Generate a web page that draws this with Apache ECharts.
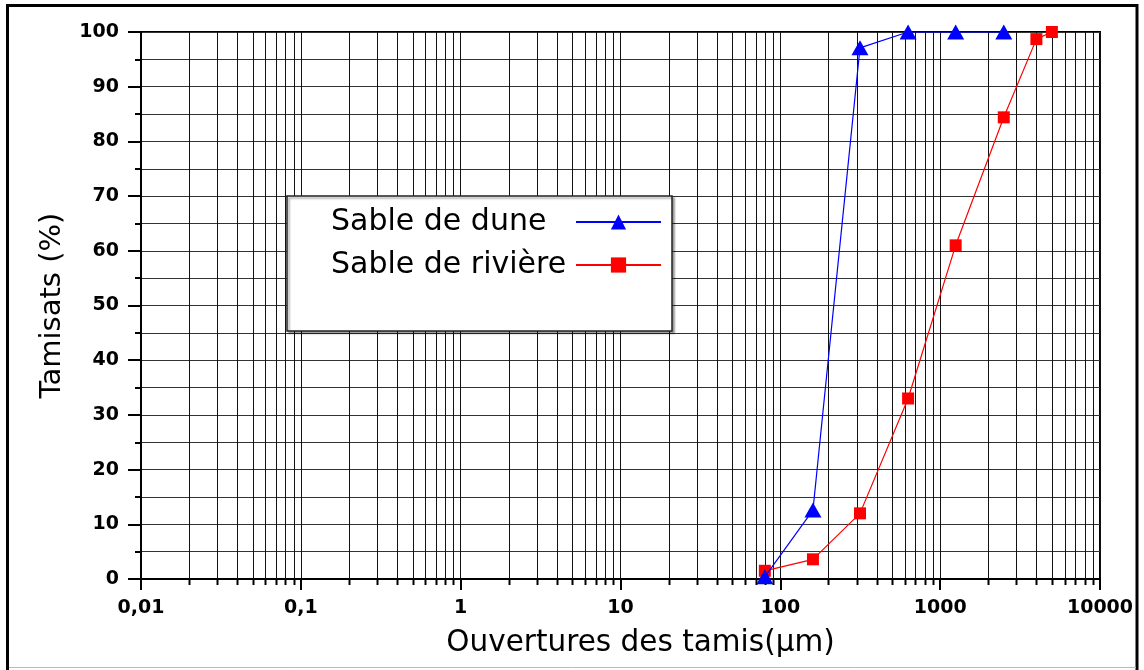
<!DOCTYPE html>
<html>
<head>
<meta charset="utf-8">
<script src="https://cdn.jsdelivr.net/npm/echarts@6/dist/echarts.min.js"></script>
<style>html,body{margin:0;padding:0;background:#fff;}#c{width:1144px;height:670px;}</style>
</head>
<body>
<div id="c"></div>
<script>
// ---- data ----
var seriesNames = ['Sable de dune', 'Sable de rivière'];
var duneX = [80, 160, 315, 630, 1250, 2500];
var duneY = [0.4, 12.6, 97.1, 100, 100, 100];
var riviereX = [80, 160, 315, 630, 1250, 2500, 4000, 5000];
var riviereY = [1.5, 3.6, 12.0, 33.0, 61.0, 84.4, 98.7, 100];
var xDecades = [0.01, 0.1, 1, 10, 100, 1000];
var xMinorMultipliers = [2, 3, 4, 5, 6, 7, 8, 9];
var xAxisName = 'Ouvertures des tamis(µm)';
var yAxisName = 'Tamisats (%)';

function pairs(xs, ys) { return xs.map(function (x, i) { return [x, ys[i]]; }); }
var minorTicks = [];
xDecades.forEach(function (d) { xMinorMultipliers.forEach(function (m) { minorTicks.push([+(d * m).toPrecision(6)]); }); });

var FONT = 'DejaVu Sans';
var chart = echarts.init(document.getElementById('c'));
chart.setOption({
  animation: false,
  backgroundColor: '#fff',
  textStyle: { fontFamily: FONT },
  grid: { left: 141, right: 44, top: 32, bottom: 91, show: true, borderColor: '#000', borderWidth: 2, backgroundColor: 'transparent' },
  graphic: [
    { type: 'rect', shape: { x: 7.5, y: 5.5, width: 1129.5, height: 670 }, style: { fill: 'none', stroke: '#000', lineWidth: 3 }, silent: true, z: 100 },
    { type: 'line', shape: { x1: 9, y1: 667.5, x2: 1136, y2: 667.5 }, style: { stroke: '#bbb', lineWidth: 1 }, silent: true, z: 100 }
  ],
  legend: {
    orient: 'vertical', left: 287, top: 196, align: 'right',
    padding: [11, 10, 51, 44], itemGap: 13, itemWidth: 85, itemHeight: 19,
    backgroundColor: '#fff', borderColor: '#222', borderWidth: 1.5,
    shadowColor: 'rgba(0,0,0,0.35)', shadowBlur: 2, shadowOffsetX: 2, shadowOffsetY: 2,
    formatter: function (name) { return '{a|' + name + '}'; },
    textStyle: { fontFamily: FONT, fontSize: 30, color: '#000', lineHeight: 30,
      rich: { a: { fontFamily: FONT, fontSize: 30, color: '#000', width: 240, align: 'left', lineHeight: 30 } } },
    data: seriesNames
  },
  xAxis: {
    type: 'log', logBase: 10, min: 0.01, max: 10000,
    name: xAxisName, nameLocation: 'middle', nameGap: 49,
    nameTextStyle: { fontFamily: FONT, fontSize: 29.5, color: '#000', padding: [0, 0, 0, 40] },
    axisLine: { show: true, lineStyle: { color: '#000', width: 2 } },
    axisTick: { show: true, inside: false, length: 11, lineStyle: { color: '#000', width: 2 } },
    axisLabel: { margin: 20, fontFamily: FONT, fontSize: 19, fontWeight: 'bold', color: '#000',
      formatter: function (v) { return String(+(+v).toPrecision(6)).replace('.', ','); } },
    splitLine: { show: true, lineStyle: { color: '#111', width: 1 } },
    minorTick: { show: false }, minorSplitLine: { show: false }
  },
  yAxis: {
    type: 'value', min: 0, max: 100, interval: 10,
    name: yAxisName, nameLocation: 'middle', nameGap: 74,
    nameTextStyle: { fontFamily: FONT, fontSize: 29, color: '#000' },
    axisLine: { show: true, lineStyle: { color: '#000', width: 2 } },
    axisTick: { show: true, inside: false, length: 13, lineStyle: { color: '#000', width: 2 } },
    minorTick: { show: true, splitNumber: 2, length: 6, lineStyle: { color: '#000', width: 2 } },
    axisLabel: { margin: 22, fontFamily: FONT, fontSize: 19, fontWeight: 'bold', color: '#000' },
    splitLine: { show: true, lineStyle: { color: '#333', width: 1 } },
    minorSplitLine: { show: true, lineStyle: { color: '#333', width: 1 } }
  },
  series: [
    {
      type: 'custom', name: 'minorGrid', silent: true, clip: false, z: 1,
      encode: { x: 0 }, data: minorTicks,
      renderItem: function (params, api) {
        var v = api.value(0);
        var pb = api.coord([v, 0]);
        var pt = api.coord([v, 100]);
        var x = Math.round(pb[0]) + 0.5;
        return { type: 'group', children: [
          { type: 'line', shape: { x1: x, y1: pt[1], x2: x, y2: pb[1] }, style: { stroke: '#111', lineWidth: 1 } },
          { type: 'line', shape: { x1: x, y1: pb[1], x2: x, y2: pb[1] + 6 }, style: { stroke: '#000', lineWidth: 2 } }
        ] };
      }
    },
    {
      type: 'line', name: seriesNames[0], data: pairs(duneX, duneY), z: 4,
      symbol: 'triangle', symbolSize: [17, 15],
      lineStyle: { color: '#0000ff', width: 1.2 }, itemStyle: { color: '#0000ff' }
    },
    {
      type: 'line', name: seriesNames[1], data: pairs(riviereX, riviereY), z: 3,
      symbol: 'rect', symbolSize: 12,
      lineStyle: { color: '#ff0000', width: 1.2 }, itemStyle: { color: '#ff0000' }
    }
  ]
});
</script>
</body>
</html>
